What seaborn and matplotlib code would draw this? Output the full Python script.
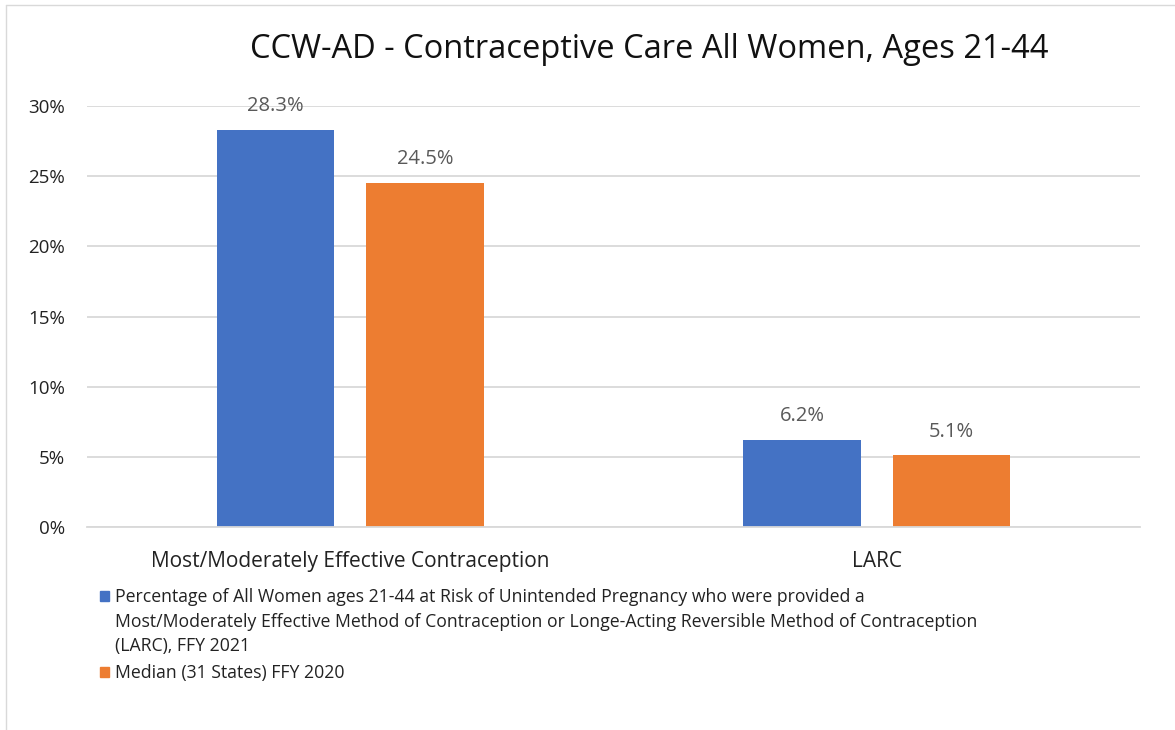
import matplotlib
matplotlib.use("Agg")
import matplotlib.pyplot as plt
import seaborn as sns
import pandas as pd
from matplotlib.patches import Rectangle
from matplotlib.lines import Line2D

# chart data
categories = ["Most/Moderately Effective Contraception", "LARC"]
series_names = [
    "Percentage of All Women ages 21-44 at Risk of Unintended Pregnancy who were provided a "
    "Most/Moderately Effective Method of Contraception or Longe-Acting Reversible Method of "
    "Contraception (LARC), FFY 2021",
    "Median (31 States) FFY 2020",
]
legend_labels = [
    "Percentage of All Women ages 21-44 at Risk of Unintended Pregnancy who were provided a\n"
    "Most/Moderately Effective Method of Contraception or Longe-Acting Reversible Method of Contraception\n"
    "(LARC), FFY 2021",
    "Median (31 States) FFY 2020",
]
state_ffy2021 = [28.3, 6.2]
median_ffy2020 = [24.5, 5.1]
y_ticks = [0, 5, 10, 15, 20, 25, 30]
title = "CCW-AD - Contraceptive Care All Women, Ages 21-44"

colors = ["#4472C4", "#ED7D31"]

df = pd.DataFrame({
    "category": categories * 2,
    "series": [series_names[0]] * 2 + [series_names[1]] * 2,
    "value": state_ffy2021 + median_ffy2020,
})

sns.set_theme(style="white")
plt.rcParams["font.family"] = ["Open Sans", "DejaVu Sans"]

fig = plt.figure(figsize=(11.75, 7.3), dpi=100)
ax = fig.add_axes([87 / 1175, 1 - 527 / 730, (1140 - 87) / 1175, (527 - 106) / 730])

sns.barplot(
    data=df, x="category", y="value", hue="series",
    hue_order=series_names, order=categories,
    palette=colors, width=0.568, gap=0.217,
    saturation=1, linewidth=0, legend=False, ax=ax,
)

for cont in ax.containers:
    ax.bar_label(cont, fmt="%.1f%%", padding=10, fontsize=14.5, color="#595959")

ax.set_ylim(0, 30)
ax.set_yticks(y_ticks)
ax.set_yticklabels([f"{t}%" for t in y_ticks])
ax.yaxis.grid(True, color="#D9D9D9", linewidth=1.3)
ax.set_axisbelow(True)
for side in ["top", "right", "left"]:
    ax.spines[side].set_visible(False)
ax.spines["bottom"].set_color("#D9D9D9")
ax.spines["bottom"].set_linewidth(1.3)
ax.tick_params(axis="y", length=0, pad=16, labelsize=13.5, labelcolor="#222222")
ax.tick_params(axis="x", length=0, pad=17, labelsize=15, labelcolor="#222222")
ax.set_xlabel("")
ax.set_ylabel("")

fig.text(649 / 1175, 1 - 50 / 730, title, ha="center", va="center",
         fontsize=23.5, color="#111111")

# legend drawn by hand, Excel style
leg_tops = [588, 664]
for i, lab in enumerate(legend_labels):
    y_top = leg_tops[i]
    fig.patches.append(Rectangle((100 / 1175, 1 - (y_top + 13) / 730), 9 / 1175, 10 / 730,
                                 transform=fig.transFigure, color=colors[i]))
    fig.text(115 / 1175, 1 - y_top / 730, lab, ha="left", va="top",
             fontsize=12.7, linespacing=1.48, color="#222222")

# chart frame
fig.add_artist(Line2D([6 / 1175, 6 / 1175], [0, 1 - 5 / 730], transform=fig.transFigure,
                      color="#D9D9D9", linewidth=1))
fig.add_artist(Line2D([6 / 1175, 1], [1 - 5 / 730, 1 - 5 / 730], transform=fig.transFigure,
                      color="#D9D9D9", linewidth=1))

fig.savefig("out.png", dpi=100)
